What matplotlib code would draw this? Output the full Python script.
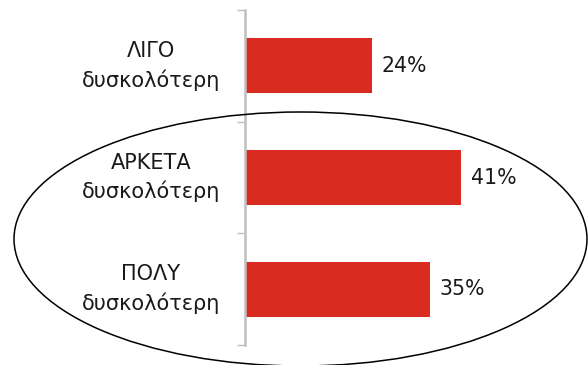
import matplotlib
matplotlib.use("Agg")
import matplotlib.pyplot as plt
from matplotlib.patches import Ellipse
from matplotlib.transforms import blended_transform_factory

# data, top to bottom
categories = ["ΛΙΓΟ\nδυσκολότερη", "ΑΡΚΕΤΑ\nδυσκολότερη", "ΠΟΛΥ\nδυσκολότερη"]
values = [24, 41, 35]
value_labels = ["24%", "41%", "35%"]

bar_color = "#D92B20"
text_color = "#1A1A1A"
plt.rcParams["font.family"] = ["DejaVu Sans"]

fig = plt.figure(figsize=(5.88, 3.65), dpi=100)
ax = fig.add_axes([245 / 588, 20 / 365, 343 / 588, 335 / 365])

ypos = list(range(len(categories)))
ax.barh(ypos, values, height=0.49, color=bar_color)
ax.set_xlim(0, 65)
ax.set_ylim(len(categories) - 0.5, -0.5)

for y, v, lab in zip(ypos, values, value_labels):
    ax.text(v + 1.8, y, lab, va="center", ha="left", fontsize=14.8, color=text_color)

# category labels centred left of the axis
trans = blended_transform_factory(fig.transFigure, ax.transData)
for y, cat in zip(ypos, categories):
    ax.text(151 / 588, y, cat, transform=trans, ha="center", va="center",
            fontsize=15, color=text_color, linespacing=1.45)

for side in ["top", "right", "bottom"]:
    ax.spines[side].set_visible(False)
ax.spines["left"].set_color("#BFBFBF")
ax.spines["left"].set_linewidth(1.8)
ax.set_xticks([])
ax.set_yticks([-0.5, 0.5, 1.5, 2.5])
ax.set_yticklabels([])
ax.tick_params(axis="y", length=6, width=1, color="#BFBFBF", direction="out")

# ellipse round the two lower categories
ell = Ellipse((3.005, 1.26), 5.73, 2.54, transform=fig.dpi_scale_trans,
              fill=False, edgecolor="black", linewidth=1.1, clip_on=False)
fig.add_artist(ell)

fig.savefig("out.png", dpi=100)
